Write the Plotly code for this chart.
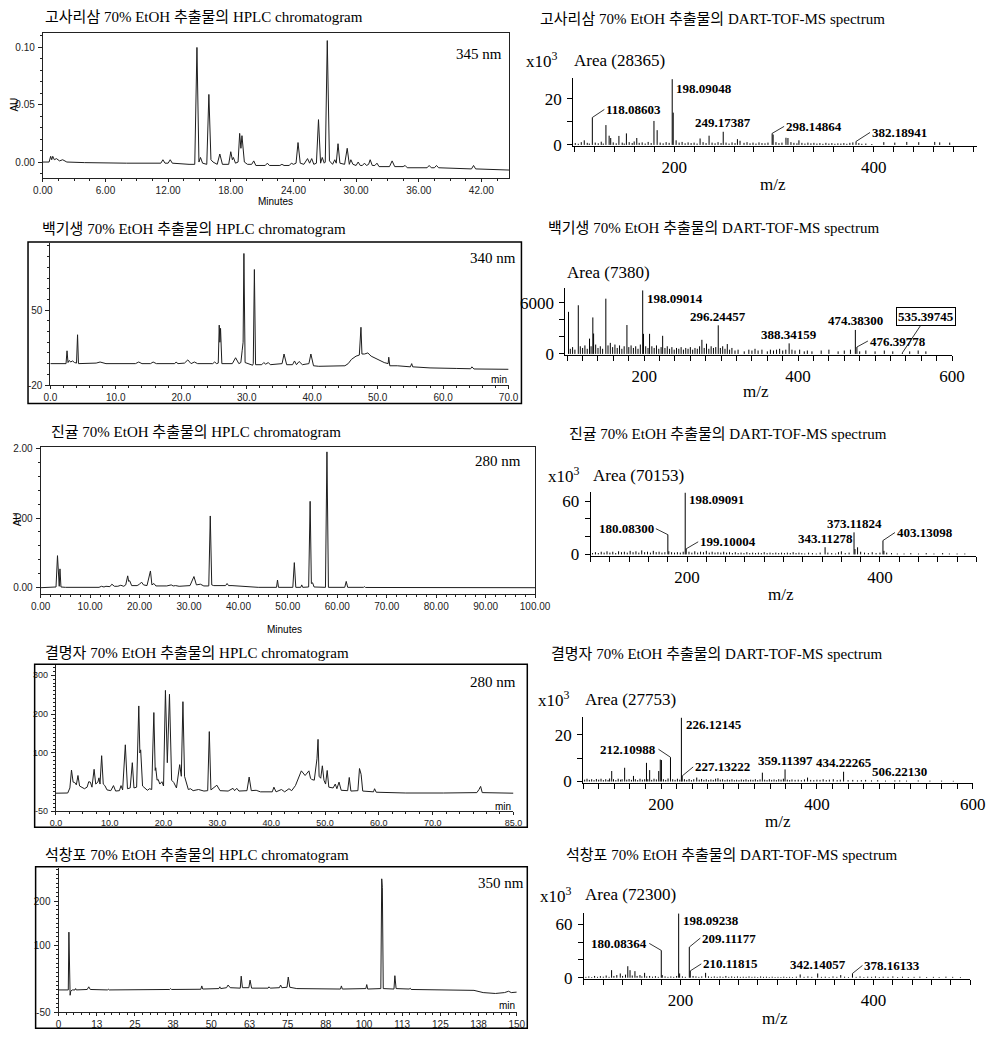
import plotly.graph_objects as go

W, H = 1007, 1049

# ======================= DATA =======================
titles_hplc = ["고사리삼 70% EtOH 추출물의 HPLC chromatogram",
               "백기생 70% EtOH 추출물의 HPLC chromatogram",
               "진귤 70% EtOH 추출물의 HPLC chromatogram",
               "결명자 70% EtOH 추출물의 HPLC chromatogram",
               "석창포 70% EtOH 추출물의 HPLC chromatogram"]
titles_ms = ["고사리삼 70% EtOH 추출물의 DART-TOF-MS spectrum",
             "백기생 70% EtOH 추출물의 DART-TOF-MS spectrum",
             "진귤 70% EtOH 추출물의 DART-TOF-MS spectrum",
             "결명자 70% EtOH 추출물의 DART-TOF-MS spectrum",
             "석창포 70% EtOH 추출물의 DART-TOF-MS spectrum"]
wavelengths = ["345 nm", "340 nm", "280 nm", "280 nm", "350 nm"]
areas = ["Area (28365)", "Area (7380)", "Area (70153)", "Area (27753)", "Area (72300)"]

# HPLC traces: (retention time [min], response) vertices
hplc1 = [(0, 0.000), (0.6, 0.000), (0.75, 0.005), (0.85, 0.002), (0.95, 0.005), (1.1, 0.002), (1.3, 0.003),
         (1.6, 0.001), (1.9, 0.002), (2.3, 0.000), (4, -0.0005), (6, -0.001), (8, -0.001), (11.3, -0.001),
         (11.5, 0.002), (11.7, -0.001), (12.0, -0.001), (12.2, 0.002), (12.4, -0.001), (14.0, -0.002),
         (14.55, -0.002), (14.76, 0.100), (14.95, 0.000), (15.1, 0.004), (15.3, -0.001), (15.7, -0.002),
         (15.9, 0.059), (16.1, 0.002), (16.3, 0.000), (16.7, -0.002), (16.95, 0.007), (17.2, -0.002),
         (17.8, -0.002), (18.0, 0.009), (18.15, 0.002), (18.25, 0.004), (18.45, -0.001), (18.7, 0.000),
         (18.85, 0.025), (18.97, 0.012), (19.07, 0.023), (19.3, 0.000), (19.6, -0.002), (20.0, -0.002),
         (20.2, 0.001), (20.4, -0.003), (21.3, -0.003), (21.5, -0.001), (21.7, -0.003), (22.7, -0.003),
         (22.9, -0.002), (23.1, -0.003), (23.6, -0.003), (23.8, -0.001), (24.0, -0.002), (24.25, -0.001),
         (24.44, 0.017), (24.65, -0.001), (25.0, -0.002), (25.35, 0.003), (25.55, -0.001), (25.75, 0.003),
         (25.95, -0.002), (26.2, -0.001), (26.4, 0.037), (26.6, -0.001), (26.76, 0.004), (26.95, -0.001),
         (27.05, 0.000), (27.24, 0.106), (27.45, 0.001), (27.75, -0.002), (27.96, 0.002), (28.1, -0.001),
         (28.27, 0.016), (28.45, -0.001), (28.9, -0.002), (29.15, 0.012), (29.35, -0.002), (29.5, 0.002),
         (29.7, -0.002), (30.0, -0.003), (30.2, 0.000), (30.4, -0.003), (30.6, -0.003), (30.8, -0.001),
         (31.0, -0.003), (31.2, -0.002), (31.35, 0.002), (31.55, -0.003), (31.8, -0.003), (32.0, -0.001),
         (32.2, -0.004), (33.2, -0.004), (33.45, 0.001), (33.7, -0.004), (34.5, -0.004), (34.7, -0.003),
         (34.9, -0.005), (36.8, -0.005), (37.0, -0.003), (37.2, -0.005), (37.5, -0.005), (37.7, -0.003),
         (37.9, -0.005), (41.05, -0.006), (41.25, -0.003), (41.45, -0.006), (44.67, -0.007)]

hplc2 = [(0, 0), (2.4, 0), (2.55, 12), (2.7, 1), (2.9, 3), (3.1, 1.5), (3.4, 2.5), (3.7, 1), (4.0, 0.5),
         (4.16, 27), (4.3, 0), (5, 0), (7, 0.5), (7.6, 1.5), (8.5, 0), (13, 0), (13.5, 1.5), (14, 0),
         (15.3, 0), (15.7, 1.5), (16.2, 0), (19, 0), (19.2, 1.5), (19.5, 0), (20.5, 0.5), (21.0, 3.5),
         (21.5, 0), (22.0, 1.5), (22.5, 0), (24.8, 0), (25.1, 1.5), (25.4, 0), (25.65, 0.5), (25.8, 36),
         (25.9, 20), (26.0, 33), (26.2, 0), (27.8, 0), (28.3, 5.5), (28.8, 0), (29.1, 1), (29.3, 12),
         (29.45, 20), (29.57, 103), (29.75, 1), (30.9, -1.5), (31.0, 0), (31.17, 88), (31.35, -1),
         (32.3, -1), (32.6, 1), (32.9, -0.5), (33.3, 1), (33.6, -1), (35.4, 0), (35.7, 9), (36.1, -1),
         (37, -1), (37.3, 2.5), (37.6, -1), (38.0, 2), (38.5, -1), (39.5, 0), (39.8, 9), (40.2, -2),
         (41, -2.5), (43, -2.5), (45, -2), (45.5, 0), (46, 4), (46.7, 7), (47.2, 8), (47.45, 34),
         (47.6, 9), (48.0, 9), (48.5, 10), (49, 7), (50, 4), (51, 1), (51.6, 0), (51.7, 6), (51.85, -2),
         (53, -2), (55, -3), (55.2, 0), (55.35, -3), (58, -4), (62, -4.5), (64.2, -4.8), (64.4, -3),
         (64.7, -5), (70, -5.3)]

hplc3 = [(0, 0), (2.5, 0.005), (3.1, 0.01), (3.4, 0.46), (3.6, 0.02), (3.75, 0.02), (3.9, 0.27), (4.1, 0.01),
         (5, 0.005), (11.8, 0.005), (12.3, 0.02), (12.8, 0.01), (13.2, 0.02), (14.0, 0.015), (14.4, 0.05),
         (14.9, 0.02), (15.6, 0.02), (16.2, 0.035), (16.8, 0.02), (17.2, 0.04), (17.6, 0.17), (17.8, 0.09),
         (18.0, 0.10), (18.4, 0.03), (19.5, 0.03), (20.0, 0.05), (20.4, 0.08), (20.8, 0.04), (21.5, 0.03),
         (22.2, 0.24), (22.5, 0.04), (22.9, 0.06), (23.3, 0.025), (25.5, 0.025), (26.4, 0.04), (26.8, 0.025),
         (27.3, 0.03), (28, 0.02), (30.2, 0.03), (31.0, 0.16), (31.5, 0.04), (32.3, 0.05), (33.0, 0.025),
         (34.0, 0.025), (34.3, 1.03), (34.6, 0.04), (35.0, 0.03), (37.4, 0.03), (37.7, 0.06), (38.0, 0.03),
         (38.7, 0.03), (40.5, 0.025), (42, 0.01), (44, 0.005), (47.7, 0.005), (47.9, 0.11), (48.1, 0.005),
         (51.0, 0.005), (51.3, 0.36), (51.6, 0.005), (52.6, 0.005), (52.8, 0.04), (53.0, 0.005),
         (54.2, 0.01), (54.5, 1.24), (54.75, 0.06), (55.0, 0.07), (55.3, 0.01), (57.6, 0.005), (57.9, 1.95),
         (58.2, 0.005), (61.5, 0.005), (61.8, 0.09), (62.1, 0.005), (65.3, 0.005), (65.5, 0.015),
         (65.7, 0.003), (100, 0.0)]

hplc4 = [(0, -3.5), (2.2, -3), (2.6, 10), (2.9, 56), (3.2, 25), (3.5, 24), (3.8, 18), (4.1, 42), (4.4, 15),
         (4.9, 11), (5.3, 8), (5.8, 12), (6.1, 26), (6.4, 25), (6.7, 12), (7.1, 58), (7.4, 20), (7.8, 25),
         (8.0, 36), (8.2, 20), (8.5, 93), (8.8, 20), (9.1, 16), (9.5, 5), (10.2, 3), (10.7, 16), (11.1, 2),
         (11.8, 3), (12.1, 16), (12.4, 5), (12.9, 121), (13.3, 8), (13.8, 10), (14.2, 75), (14.5, 10),
         (15.0, 12), (15.4, 221), (15.6, 100), (15.75, 108), (16.1, 15), (16.5, 10), (17.0, 4), (17.4, 8),
         (17.8, 6), (18.2, 204), (18.45, 55), (18.55, 62), (18.8, 30), (19.0, 32), (19.3, 20), (19.7, 26),
         (20.0, 15), (20.35, 261), (20.7, 75), (21.1, 251), (21.5, 30), (21.9, 24), (22.4, 10), (23.0, 70),
         (23.3, 40), (23.6, 232), (23.9, 40), (24.2, 28), (24.6, 6), (25.0, 8), (25.5, 3), (26.5, 6),
         (27.5, 2), (28.2, 3), (28.5, 155), (28.8, 5), (29.9, 17), (30.5, 3), (32.0, 2), (32.9, 9),
         (33.2, 3), (33.6, 9), (34, 2), (35.5, 3), (35.9, 38), (36.3, 3), (37.2, 4), (38, 0), (40.2, 0),
         (40.5, 12), (40.9, 0), (41.9, 6), (42.5, 0), (43.3, 8), (43.8, 3), (44.5, 16), (45.1, 38),
         (45.6, 54), (46.3, 42), (47.0, 54), (47.3, 35), (47.5, 32), (48.0, 30), (48.3, 70), (48.5, 85),
         (48.7, 135), (48.9, 40), (49.2, 35), (49.5, 67), (49.8, 30), (50.1, 20), (50.4, 55), (50.7, 12),
         (51.5, 10), (51.9, 20), (52.2, 8), (52.6, 25), (53.0, 4), (54.2, 3), (54.5, 37), (54.8, 2),
         (56.1, 3), (56.4, 60), (56.7, 45), (57.0, 2), (59.0, 0), (59.2, 8), (59.5, -1), (65, -3), (72, -3),
         (78.2, -2), (78.6, 6), (78.9, 14), (79.2, -2), (85, -3.5)]

hplc5 = [(0, 0), (3.2, 0), (3.4, 130), (3.6, 40), (3.8, -12), (4.0, -3), (4.5, 0), (5.4, 0), (5.6, 3),
         (5.8, 0), (9.4, 1), (9.9, 7), (10.4, 1), (16, 0), (16.3, 1.5), (16.6, 0), (36.4, 1), (36.7, 3),
         (37, 1), (46.6, 1.5), (46.9, 9), (47.2, 2), (52.5, 3), (52.8, 7), (53.1, 3), (55.0, 5), (55.5, 11),
         (56.2, 5), (59.5, 4), (59.8, 31), (60.2, 5), (62.3, 5), (62.7, 22), (63.2, 4), (68.6, 4), (68.9, 7),
         (69.3, 4), (72.3, 5), (72.7, 11), (73.1, 5), (74.8, 6), (75.2, 29), (75.7, 6), (78, 3), (92.3, 2),
         (92.6, 9), (92.9, 2), (100.6, 3), (100.9, 12), (101.2, 2), (105.5, 3), (105.8, 250), (106.0, 230),
         (106.3, 3), (109.8, 2), (110.1, 32), (110.5, 3), (114.8, 2), (115.1, 4), (115.4, 1), (136, -1),
         (139, -6), (143, -8), (146, -6), (147.3, -3), (148.2, -6), (150, -5)]

# Mass spectra: (m/z, intensity) sticks
ms1 = [(101, 0.8), (104, 0.5), (107, 1.2), (110, 2.0), (113, 0.9), (115, 0.6), (118.08603, 11.9), (121, 1.0),
       (124, 0.7), (127, 1.4), (129, 0.6), (131.7, 8.6), (134.9, 4.0), (136.5, 3.0), (139, 1.1), (142, 0.7),
       (144.7, 3.9), (148, 1.0), (150, 0.6), (152.2, 5.0), (155, 1.2), (158, 0.8), (160, 1.5), (162.6, 3.0),
       (165, 0.9), (168, 1.1), (171, 0.6), (174, 1.3), (177, 0.8), (179.8, 10.4), (183, 6.4), (186, 1.0),
       (189, 0.7), (192, 1.2), (195, 0.9), (198.09048, 28.5), (199.09, 14.0), (202, 2.0), (205, 1.0),
       (208, 1.3), (211, 0.7), (214, 1.1), (217, 0.8), (220, 1.0), (223, 0.6), (226, 2.8), (229, 1.2),
       (232, 0.8), (235, 4.0), (238, 1.0), (241, 0.7), (244, 1.2), (247, 0.8), (249.17387, 5.7), (252, 1.0),
       (255, 0.6), (258, 1.1), (261, 0.8), (263.4, 2.5), (266, 1.8), (270, 0.9), (273, 1.2), (276, 0.7),
       (279, 1.0), (282, 0.6), (285, 1.1), (288, 0.8), (291, 0.7), (294, 1.0), (298.14864, 5.0),
       (299.15, 4.5), (302, 1.2), (305, 0.8), (308, 1.0), (312, 3.1), (314, 3.0), (317, 1.2), (320, 0.9),
       (323, 0.7), (325, 2.0), (328, 0.9), (331, 0.6), (334, 1.0), (337, 0.7), (340, 0.9), (343, 0.6),
       (346, 0.8), (349, 0.5), (352, 0.9), (355, 0.6), (358, 0.8), (361, 0.5), (364, 0.7), (367, 0.6),
       (370, 0.8), (373, 0.5), (376, 0.9), (379, 1.1), (382.18941, 1.5), (385, 0.8), (388, 0.5), (392, 0.6),
       (398, 0.4), (410, 1.2), (421, 1.0), (433, 1.3), (445, 1.2), (461, 1.3), (466, 1.1), (476, 1.0)]

ms2 = [(101.7, 4950), (104, 600), (107, 800), (110, 500), (114.4, 5725), (117, 900), (120, 700), (123, 1000),
       (126, 600), (129, 1800), (131, 900), (133.3, 4290), (134.3, 2400), (137, 1100), (140, 700), (143, 900),
       (146, 600), (150.2, 6500), (153, 1000), (156, 1300), (159, 800), (162, 1100), (165, 700), (168, 1000),
       (171, 600), (174, 900), (177.6, 3400), (180, 800), (183, 1000), (186, 700), (189, 900), (192, 600),
       (195, 1100), (198.09014, 7470), (199.09, 2360), (202, 900), (205, 700), (207, 2360), (210, 900),
       (213, 700), (216, 1000), (219, 600), (222, 800), (224, 2130), (227, 700), (230, 900), (233, 600),
       (236, 800), (239, 500), (242, 700), (245, 600), (248, 800), (251, 500), (254, 700), (257, 600),
       (260, 800), (263, 500), (266, 700), (269, 600), (272, 900), (275, 1660), (278, 700), (281, 1200),
       (284, 600), (287, 900), (290, 700), (293, 800), (296.24457, 3365), (299, 700), (302, 900), (305, 600),
       (308, 1160), (311, 500), (314, 700), (318, 400), (322, 500), (330, 300), (336, 500), (340, 400),
       (344, 600), (348, 400), (353, 500), (360, 300), (364, 500), (368, 400), (372, 500), (376, 600),
       (380, 400), (384, 500), (388.34159, 1240), (392, 500), (396, 400), (402, 500), (408, 300), (412, 400),
       (418, 300), (430, 400), (440, 500), (452, 300), (460, 400), (468, 500), (474.383, 2820),
       (476.39778, 810), (480, 300), (488, 400), (500, 300), (512, 400), (523, 300), (535.39745, 120),
       (545, 300), (556, 400), (566, 300)]

ms3 = [(102, 1.5), (105, 2.5), (108, 1.5), (111, 3.0), (114, 2.0), (117, 3.5), (120, 2.0), (123, 3.0),
       (126, 1.5), (129, 3.5), (132, 2.5), (135, 3.0), (138, 2.0), (141, 4.0), (144, 2.5), (147, 3.5),
       (150, 2.0), (153, 4.5), (156, 2.5), (159, 3.0), (162, 2.0), (165, 4.0), (168, 2.5), (171, 3.0),
       (174, 2.0), (177, 2.5), (180.083, 22.2), (181.09, 3.5), (184, 2.5), (187, 2.0), (190, 2.5), (193, 2.0),
       (196, 3.0), (198.09091, 69.3), (199.10004, 6.3), (202, 3.0), (205, 2.0), (208, 3.5), (211, 2.0),
       (214, 3.0), (217, 2.5), (220, 4.0), (223, 2.0), (226, 3.0), (229, 2.0), (232, 2.5), (235, 2.0),
       (238, 3.0), (241, 2.0), (244, 2.5), (247, 1.5), (250, 2.5), (253, 1.5), (256, 2.0), (259, 1.5),
       (262, 2.5), (265, 1.5), (268, 2.0), (271, 1.5), (274, 2.0), (277, 1.5), (280, 2.5), (283, 1.5),
       (286, 2.0), (289, 1.5), (292, 2.0), (295, 1.5), (298, 2.0), (301, 1.5), (304, 2.0), (307, 1.5),
       (310, 2.5), (313, 1.5), (316, 2.0), (319, 1.5), (322, 1.0), (326, 2.0), (330, 1.5), (334, 1.0),
       (338, 2.0), (343.11278, 8.1), (346, 2.0), (350, 1.5), (354, 1.0), (357, 2.5), (360, 3.5), (364, 1.5),
       (368, 2.0), (373.11824, 24.8), (374.12, 6.0), (376.8, 8.0), (380, 3.0), (384, 2.0), (388, 1.5),
       (392, 2.5), (396, 1.5), (400, 2.0), (403.13098, 15.6), (404.13, 4.0), (407, 2.0), (412, 1.5),
       (418, 1.0), (425, 1.0), (432, 1.5), (440, 1.0), (448, 1.5), (456, 1.0), (465, 1.5), (472, 1.0),
       (480, 1.0), (488, 1.0)]

ms4 = [(102, 0.8), (105, 1.2), (108, 0.7), (111, 1.0), (114, 0.6), (117, 1.1), (120, 0.8), (123, 1.2),
       (126, 0.6), (129, 1.0), (132, 0.7), (134, 1.3), (136.7, 4.5), (139, 1.0), (142, 0.6), (145, 1.2),
       (148, 0.8), (150, 1.0), (153.3, 5.9), (156, 0.8), (159, 1.1), (162, 0.7), (164.6, 2.4), (167, 1.0),
       (170, 0.6), (173, 1.2), (176, 0.8), (179, 1.0), (181.3, 8.0), (183, 1.0), (185.4, 4.9), (188, 0.7),
       (191, 1.2), (194, 0.9), (197, 4.5), (199, 9.4), (200.5, 9.2), (203, 1.0), (206, 0.7), (209, 1.3),
       (212.10988, 10.4), (215, 1.0), (218, 0.7), (221, 1.2), (224, 0.8), (226.12145, 27.3),
       (227.13222, 2.4), (230, 1.0), (233, 0.7), (236, 1.1), (239, 0.6), (242, 1.0), (245.8, 1.7), (249, 0.8),
       (252, 1.1), (255, 0.7), (258, 1.0), (261, 0.6), (264, 0.9), (267, 0.7), (270, 1.2), (273, 1.4),
       (276, 0.8), (279, 1.0), (282, 0.6), (285, 0.9), (288, 0.7), (291, 1.0), (294, 0.6), (297, 0.8),
       (300, 0.6), (303, 0.9), (306, 0.7), (309, 1.0), (312, 0.6), (315, 0.8), (318, 0.7), (321, 1.0),
       (324, 0.6), (327, 0.9), (330, 3.8), (333, 0.8), (336, 0.6), (339, 1.0), (342, 0.7), (345, 0.9),
       (348, 0.6), (351, 1.0), (354, 0.8), (357, 1.2), (359.11397, 5.2), (362, 0.8), (365, 0.6), (368, 0.9),
       (372, 0.7), (376, 0.8), (380, 0.6), (384, 0.9), (388, 1.7), (392, 0.7), (396, 0.6), (400, 0.8),
       (404, 0.7), (408, 1.0), (412, 0.6), (416, 0.8), (421, 1.0), (426, 0.6), (430, 0.8), (434.22265, 4.2),
       (440, 0.6), (446, 0.7), (452, 0.5), (457, 0.6), (462.5, 0.7), (470, 0.5), (478, 0.6), (488, 0.4),
       (500, 0.5), (506.2213, 0.5), (515, 0.4), (530, 0.5), (545, 0.4), (560, 0.4), (575, 0.3)]

ms5 = [(102, 1.0), (105, 1.5), (108, 0.8), (111, 2.0), (114, 1.0), (117, 1.8), (120, 1.2), (123, 2.5),
       (126, 1.0), (128.6, 8.5), (131, 2.0), (134, 3.0), (137.6, 4.8), (140, 2.0), (143, 3.5), (145.4, 12.9),
       (147.7, 8.5), (150, 2.5), (152.8, 7.4), (155, 2.0), (158, 3.0), (160, 1.5), (162.8, 5.5), (165, 1.5),
       (168, 2.0), (171, 1.2), (174, 1.8), (177, 1.0), (180.08364, 30.6), (181.09, 3.0), (184, 1.5),
       (187, 1.0), (190, 1.5), (193, 1.0), (196, 2.0), (198.09238, 71.8), (199.1, 4.8), (202, 1.5),
       (205, 1.0), (209.11177, 34.3), (210.11815, 7.7), (213, 2.0), (216, 1.5), (219, 1.0), (222, 1.5),
       (226, 5.5), (229, 1.5), (232, 1.0), (235, 1.5), (238, 1.0), (241, 1.5), (244, 1.0), (247, 2.0),
       (250, 1.0), (253, 1.5), (256, 1.0), (259, 1.5), (262, 1.0), (265, 1.2), (268, 1.0), (271, 1.5),
       (274, 1.0), (277, 1.2), (280, 0.8), (283, 1.5), (286, 1.0), (289, 1.2), (292, 0.8), (295, 1.2),
       (298, 0.8), (301, 1.0), (304, 0.8), (307, 1.2), (310, 0.8), (313, 1.0), (316, 0.8), (320, 1.2),
       (324, 3.7), (328, 1.0), (332, 1.5), (336, 1.0), (342.14057, 4.8), (346, 1.0), (350, 1.2), (354, 0.8),
       (358, 1.5), (362, 1.0), (366, 3.0), (370, 1.2), (374, 0.8), (378.16133, 4.8), (382, 1.0), (386, 1.5),
       (390, 0.8), (394, 1.2), (398, 1.0), (402, 1.5), (406, 0.8), (410, 1.2), (415, 1.0), (420, 1.5),
       (425, 0.8), (430, 1.2), (436, 0.8), (442, 1.0), (448, 1.2), (455, 0.8), (462, 1.0), (468, 0.8),
       (475, 1.2), (482, 1.0), (490, 0.8)]

ms1_labels = ["118.08603", "198.09048", "249.17387", "298.14864", "382.18941"]
ms2_labels = ["198.09014", "296.24457", "388.34159", "474.38300", "476.39778", "535.39745"]
ms3_labels = ["180.08300", "198.09091", "199.10004", "343.11278", "373.11824", "403.13098"]
ms4_labels = ["212.10988", "226.12145", "227.13222", "359.11397", "434.22265", "506.22130"]
ms5_labels = ["180.08364", "198.09238", "209.11177", "210.11815", "342.14057", "378.16133"]

# tick labels
hplc1_xt = ["0.00", "6.00", "12.00", "18.00", "24.00", "30.00", "36.00", "42.00"]
hplc1_yt = ["0.00", "0.05", "0.10"]
hplc2_xt = ["0.0", "10.0", "20.0", "30.0", "40.0", "50.0", "60.0", "70.0"]
hplc2_yt = ["-20", "50"]
hplc3_xt = ["0.00", "10.00", "20.00", "30.00", "40.00", "50.00", "60.00", "70.00", "80.00", "90.00", "100.00"]
hplc3_yt = ["0.00", "1.00", "2.00"]
hplc4_xt = ["0.0", "10.0", "20.0", "30.0", "40.0", "50.0", "60.0", "70.0", "85.0"]
hplc4_yt = ["-50", "100", "200", "300"]
hplc5_xt = ["0", "13", "25", "38", "50", "63", "75", "88", "100", "113", "125", "138", "150"]
hplc5_yt = ["-50", "100", "200"]

# ======================= LAYOUT HELPERS =======================
SERIF = "Liberation Serif, Times New Roman, Noto Sans CJK KR, serif"
SANS = "Liberation Sans, Arial, sans-serif"


def dx(a, b):
    return [a / W, b / W]


def dy(top, bottom):
    return [1 - bottom / H, 1 - top / H]


def px(xp):
    return xp / W


def py(yp):
    return 1 - yp / H


fig = go.Figure()
annotations = []
shapes = []


def add_trace_line(pairs, idx, color="#1e1e1e", width=1):
    xs = [p[0] for p in pairs]
    ys = [p[1] for p in pairs]
    sfx = "" if idx == 1 else str(idx)
    fig.add_trace(go.Scatter(x=xs, y=ys, mode="lines", line=dict(color=color, width=width),
                             xaxis="x" + sfx, yaxis="y" + sfx, hoverinfo="skip", showlegend=False))


def add_sticks(pairs, idx):
    xs, ys = [], []
    for m, v in pairs:
        xs += [m, m, None]
        ys += [0, v, None]
    sfx = "" if idx == 1 else str(idx)
    fig.add_trace(go.Scatter(x=xs, y=ys, mode="lines", line=dict(color="black", width=1),
                             xaxis="x" + sfx, yaxis="y" + sfx, hoverinfo="skip", showlegend=False))


def txt(text, x, y, size, family=SERIF, xanchor="left", yanchor="middle", angle=0, color="black"):
    annotations.append(dict(text=text, x=px(x), y=py(y), xref="paper", yref="paper", showarrow=False,
                            xanchor=xanchor, yanchor=yanchor, textangle=angle,
                            font=dict(size=size, family=family, color=color)))


axes = {}


def hplc_axes(idx, xd, yd, xr, yr, xtv, xtt, ytv, ytt, xminor, yminor, mirror=False, tickfont=10):
    sfx = "" if idx == 1 else str(idx)
    common = dict(showgrid=False, zeroline=False, showline=True, linecolor="#222", linewidth=1,
                  ticks="outside", ticklen=4, tickcolor="#222", tickwidth=1, mirror=mirror,
                  tickfont=dict(family=SANS, size=tickfont, color="#222"), tickmode="array")
    axes["xaxis" + sfx] = dict(common, domain=xd, range=xr, tickvals=xtv, ticktext=xtt,
                               anchor="y" + sfx, ticklen=3,
                               minor=dict(ticks="outside", ticklen=2, tickcolor="#222", tickmode="linear",
                                          tick0=0, dtick=xminor))
    axes["yaxis" + sfx] = dict(common, domain=yd, range=yr, tickvals=ytv, ticktext=ytt,
                               anchor="x" + sfx, ticklabelstandoff=1,
                               minor=dict(ticks="outside", ticklen=2, tickcolor="#222", tickmode="linear",
                                          tick0=0, dtick=yminor))


def ms_axes(idx, xd, yd, xr, yr, ytv, ytt):
    sfx = "" if idx == 1 else str(idx)
    common = dict(showgrid=False, zeroline=False, showline=True, linecolor="black", linewidth=1,
                  ticks="outside", tickcolor="black", tickwidth=1,
                  tickfont=dict(family=SERIF, size=17, color="black"))
    xtv = list(range(100, int(xr[1]) + 1, 20))
    xtt = [str(v) if v % 200 == 0 else "" for v in xtv]
    axes["xaxis" + sfx] = dict(common, domain=xd, range=xr, tickmode="array", tickvals=xtv, ticktext=xtt,
                               ticklen=5, anchor="y" + sfx)
    axes["yaxis" + sfx] = dict(common, domain=yd, range=yr, tickmode="array", tickvals=ytv, ticktext=ytt,
                               ticklen=5, anchor="x" + sfx, ticklabelstandoff=2)


def ms_labels(idx, pairs, labels, specs):
    sfx = "" if idx == 1 else str(idx)
    lookup = dict(pairs)
    for lab, spec in zip(labels, specs):
        mz = float(lab)
        inten = lookup[mz]
        mode, ox, oy, anchor = spec
        base = dict(text="<b>%s</b>" % lab, x=mz, y=inten, xref="x" + sfx, yref="y" + sfx,
                    font=dict(family=SERIF, size=13, color="black"))
        if mode == "arrow":
            base.update(showarrow=True, arrowhead=0, arrowwidth=0.8, arrowcolor="black", ax=ox, ay=oy,
                        xanchor=anchor, yanchor="middle", standoff=0)
        elif mode == "box":
            base.update(showarrow=True, arrowhead=0, arrowwidth=0.8, arrowcolor="black", ax=ox, ay=oy,
                        xanchor=anchor, yanchor="middle", bordercolor="black", borderwidth=1, borderpad=1)
        else:
            base.update(showarrow=False, xanchor=anchor, yanchor="middle", xshift=ox, yshift=-oy)
        annotations.append(base)


# ======================= PANEL 1 : HPLC =======================
add_trace_line(hplc1, 1)
hplc_axes(1, dx(33.7, 512.5), dy(29.6, 175.8), [0, 44.67], [-0.0136, 0.1124],
          [0, 6, 12, 18, 24, 30, 36, 42], hplc1_xt, [0, 0.05, 0.10], hplc1_yt, 1.5, 0.01, mirror=True)
txt(titles_hplc[0], 33.7, 13.5, 15)
txt(wavelengths[0], 456, 51, 15)
txt("AU", 5, 102, 10, family=SANS, xanchor="center", angle=-90)
txt("Minutes", 272.7, 199.5, 10, family=SANS, xanchor="center")

# ======================= PANEL 2 : MS =======================
add_sticks(ms1, 2)
ms_axes(2, dx(578, 993), dy(75, 144), [98.8, 503.7], [-0.56, 28.99], [0, 10, 20], ["0", "", "20"])
txt(titles_ms[0], 541.7, 15, 15)
txt("x10<sup>3</sup>", 528, 57, 17)
txt(areas[0], 577, 57, 17)
txt("m/z", 783, 183, 17, xanchor="center")
ms_labels(2, ms1, ms1_labels, [("arrow", 12, -8, "left"), ("plain", 2, 9, "left"),
                               ("plain", 0, -9, "center"), ("arrow", 12, -7, "left"),
                               ("arrow", 14, -9, "left")])

# ======================= PANEL 3 : HPLC =======================
add_trace_line(hplc2, 3)
hplc_axes(3, dx(41.4, 511.8), dy(242, 385.8), [0, 70], [-20, 112.8],
          [0, 10, 20, 30, 40, 50, 60, 70], hplc2_xt, [-20, 50], hplc2_yt, 2, 10)
shapes.append(dict(type="rect", xref="paper", yref="paper", x0=px(18.5), x1=px(525), y0=py(404.6), y1=py(241),
                   line=dict(color="black", width=1.5)))
txt(titles_hplc[1], 30.3, 227.5, 15)
txt(wavelengths[1], 469.7, 257, 15)
txt("min", 511.8, 380.5, 10, family=SANS, xanchor="right")

# ======================= PANEL 4 : MS =======================
add_sticks(ms2, 4)
ms_axes(4, dx(570, 967), dy(288, 355.7), [97.5, 600], [-163, 7706], [0, 2000, 4000, 6000],
        ["0", "", "", "6000"])
txt(titles_ms[1], 550, 227.3, 15)
txt(areas[1], 569.3, 271.7, 17)
txt("m/z", 766, 392.7, 17, xanchor="center")
ms_labels(4, ms2, ms2_labels, [("plain", 2, 8, "left"), ("plain", 0, -9, "center"),
                               ("plain", 0, -9, "center"), ("plain", 0, -9, "center"),
                               ("arrow", 11, -6, "left"), ("box", 24, -36, "center")])

# ======================= PANEL 5 : HPLC =======================
add_trace_line(hplc3, 5)
hplc_axes(5, dx(31.5, 539), dy(448.5, 597.5), [0, 100], [-0.092, 2.021],
          [0, 10, 20, 30, 40, 50, 60, 70, 80, 90, 100], hplc3_xt, [0, 1, 2], hplc3_yt, 2, 0.2, mirror=True)
txt(titles_hplc[2], 40.4, 433.5, 15)
txt(wavelengths[2], 527, 463, 15, xanchor="right")
txt("AU", 8, 522, 10, family=SANS, xanchor="center", angle=-90)
txt("Minutes", 282, 633, 10, family=SANS, xanchor="center")

# ======================= PANEL 6 : MS =======================
add_sticks(ms3, 6)
ms_axes(6, dx(596, 992), dy(494, 559.3), [100, 500], [-2.2, 70.3], [0, 20, 40, 60], ["0", "", "", "60"])
txt(titles_ms[2], 571.7, 435, 15)
txt("x10<sup>3</sup>", 550, 477, 17)
txt(areas[2], 596, 477, 17)
txt("m/z", 791, 598, 17, xanchor="center")
ms_labels(6, ms3, ms3_labels, [("arrow", -12, -6, "right"), ("plain", 2, 7, "left"),
                               ("arrow", 12, -7, "left"), ("plain", 0, -9, "center"),
                               ("plain", 0, -9, "center"), ("arrow", 12, -8, "left")])

# ======================= PANEL 7 : HPLC =======================
add_trace_line(hplc4, 7)
hplc_axes(7, dx(47.1, 516.8), dy(669.6, 817.4), [0, 85], [-50, 325.6],
          [0, 10, 20, 30, 40, 50, 60, 70, 85], hplc4_xt, [-50, 100, 200, 300], hplc4_yt, 2.5, 10, tickfont=9)
shapes.append(dict(type="rect", xref="paper", yref="paper", x0=px(25.3), x1=px(531), y0=py(833.6), y1=py(668.6),
                   line=dict(color="black", width=1.5)))
txt(titles_hplc[3], 33.7, 656.8, 15)
txt(wavelengths[3], 469.7, 687, 15)
txt("min", 516.8, 812.5, 10, family=SANS, xanchor="right")

# ======================= PANEL 8 : MS =======================
add_sticks(ms4, 8)
ms_axes(8, dx(588.3, 988.3), dy(721.7, 789), [100, 600], [-0.72, 27.74], [0, 10, 20], ["0", "", "20"])
txt(titles_ms[3], 553.3, 658.3, 15)
txt("x10<sup>3</sup>", 540, 704, 17)
txt(areas[3], 588.3, 704, 17)
txt("m/z", 788, 828, 17, xanchor="center")
ms_labels(8, ms4, ms4_labels, [("arrow", -12, -8, "right"), ("plain", 3, 7, "left"),
                               ("arrow", 11, -9, "left"), ("plain", 0, -9, "center"),
                               ("plain", 0, -9, "center"), ("plain", 0, -9, "center")])

# ======================= PANEL 9 : HPLC =======================
add_trace_line(hplc5, 9)
hplc_axes(9, dx(49.8, 520.2), dy(875.3, 1020.8), [0, 150], [-50, 273.3],
          [0, 12.5, 25, 37.5, 50, 62.5, 75, 87.5, 100, 112.5, 125, 137.5, 150], hplc5_xt,
          [-50, 100, 200], hplc5_yt, 2.5, 10)
shapes.append(dict(type="rect", xref="paper", yref="paper", x0=px(26.3), x1=px(531), y0=py(1037), y1=py(873.6),
                   line=dict(color="black", width=1.5)))
txt(titles_hplc[4], 33.7, 861.8, 15)
txt(wavelengths[4], 478, 890.5, 15)
txt("min", 520.2, 1014.5, 10, family=SANS, xanchor="right")

# ======================= PANEL 10 : MS =======================
add_sticks(ms5, 10)
ms_axes(10, dx(589.2, 985.5), dy(920, 987.7), [100, 500], [-1.9, 72.9], [0, 20, 40, 60], ["0", "", "", "60"])
txt(titles_ms[4], 568.3, 861.7, 15)
txt("x10<sup>3</sup>", 541.7, 902, 17)
txt(areas[4], 588.3, 902, 17)
txt("m/z", 785, 1027, 17, xanchor="center")
ms_labels(10, ms5, ms5_labels, [("arrow", -12, -7, "right"), ("plain", 2, 7, "left"),
                                ("arrow", 11, -9, "left"), ("arrow", 11, -7, "left"),
                                ("plain", 0, -9, "center"), ("arrow", 10, -8, "left")])

fig.update_layout(width=W, height=H, margin=dict(l=0, r=0, t=0, b=0), paper_bgcolor="white",
                  plot_bgcolor="white", showlegend=False, annotations=annotations, shapes=shapes, **axes)

# remove the default page margin so the figure starts at the window's top-left corner
fig.write_html("out.html",
               post_script="document.body.style.margin='0px';document.body.style.overflow='hidden';",
               config={"displayModeBar": False})
